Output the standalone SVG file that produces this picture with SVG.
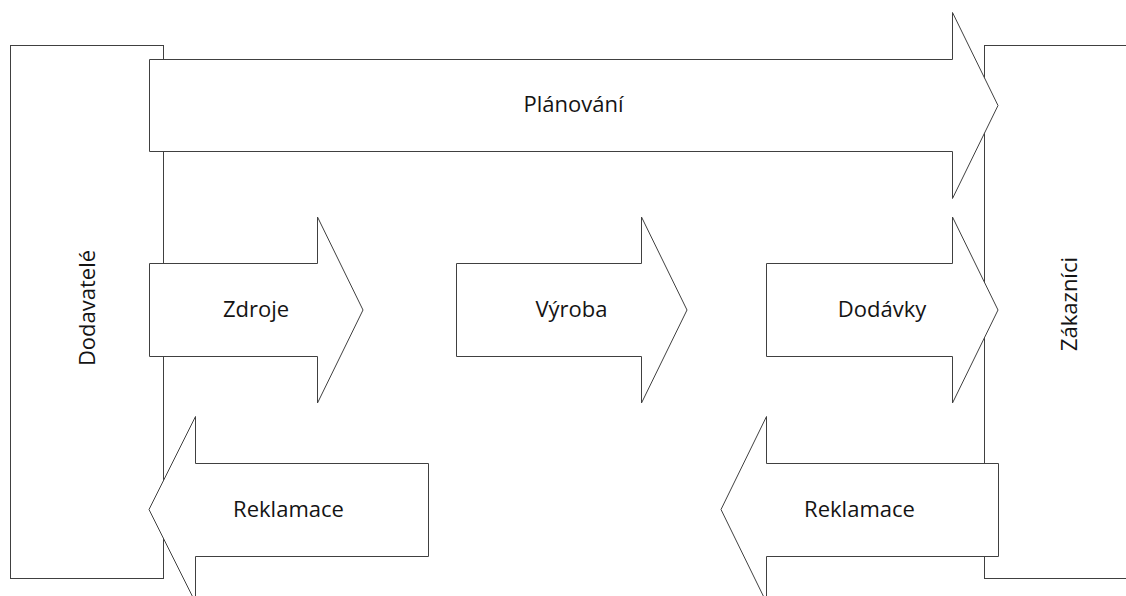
<svg xmlns="http://www.w3.org/2000/svg" width="1126" height="596" viewBox="0 0 1126 596">
  <style>
    .shape { fill: #ffffff; stroke: #404040; stroke-width: 1; stroke-linejoin: miter; }
    .label { font-family: "Open Sans", "Noto Sans", "Liberation Sans", sans-serif; font-size: 22px; fill: #141414; text-anchor: middle; }
  </style>
  <rect width="1126" height="596" fill="#ffffff"/>

  <!-- Side partners -->
  <g id="dodavatele">
    <rect class="shape" x="10.5" y="45.5" width="153" height="533"/>
    <text class="label" transform="translate(95 308) rotate(-90)">Dodavatelé</text>
  </g>
  <g id="zakaznici">
    <rect class="shape" x="984.5" y="45.5" width="200" height="533"/>
    <text class="label" transform="translate(1077 304) rotate(-90)">Zákazníci</text>
  </g>

  <!-- Flow arrows -->
  <g id="planovani">
    <polygon class="shape" points="149.5,59.5 952.5,59.5 952.5,12.5 998,105.5 952.5,198.5 952.5,151.5 149.5,151.5"/>
    <text class="label" x="573.5" y="112">Plánování</text>
  </g>
  <g id="zdroje">
    <polygon class="shape" points="149.5,263.5 317.5,263.5 317.5,217 363,310 317.5,403 317.5,356.5 149.5,356.5"/>
    <text class="label" x="256" y="317">Zdroje</text>
  </g>
  <g id="vyroba">
    <polygon class="shape" points="456.5,263.5 641.5,263.5 641.5,217 687,310 641.5,403 641.5,356.5 456.5,356.5"/>
    <text class="label" x="571.5" y="317">Výroba</text>
  </g>
  <g id="dodavky">
    <polygon class="shape" points="766.5,263.5 952.5,263.5 952.5,217 998,310 952.5,403 952.5,356.5 766.5,356.5"/>
    <text class="label" x="882" y="317">Dodávky</text>
  </g>
  <g id="reklamace-dodavatele">
    <polygon class="shape" points="428.5,463.5 195.5,463.5 195.5,416.5 149,509.5 195.5,602.5 195.5,556.5 428.5,556.5"/>
    <text class="label" x="288.5" y="517">Reklamace</text>
  </g>
  <g id="reklamace-zakaznici">
    <polygon class="shape" points="998.5,463.5 766.5,463.5 766.5,416.5 721,509.5 766.5,602.5 766.5,556.5 998.5,556.5"/>
    <text class="label" x="859.5" y="517">Reklamace</text>
  </g>
</svg>
